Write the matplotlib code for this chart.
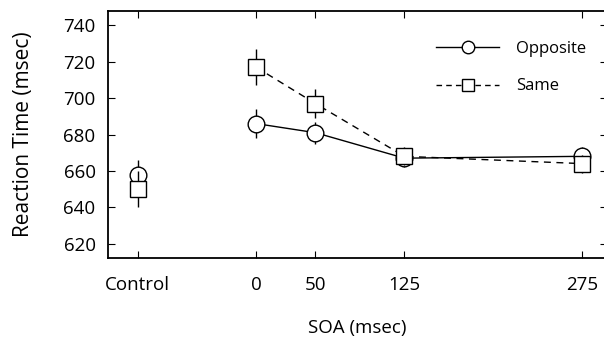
import matplotlib.pyplot as plt

soa = [-100, 0, 50, 125, 275]
tick_labels = ["Control", "0", "50", "125", "275"]
opposite = [658, 686, 681, 667, 668]
opposite_err = [8, 8, 6, 5, 5]
same = [650, 717, 697, 668, 664]
same_err = [10, 10, 8, 5, 5]

plt.rcParams['font.family'] = ['Open Sans', 'DejaVu Sans']

fig = plt.figure(figsize=(6.04, 3.41), dpi=100)
ax = fig.add_axes([0.179, 0.243, 0.826, 0.725])

# control point is drawn on its own, no connecting line
ax.errorbar(soa[0], same[0], yerr=same_err[0], fmt='s', color='black', mfc='white',
            ms=12, mew=1, elinewidth=1, capsize=0, zorder=3)
ax.errorbar(soa[0], opposite[0], yerr=opposite_err[0], fmt='o', color='black', mfc='white',
            ms=12, mew=1, elinewidth=1, capsize=0, zorder=2)

ax.errorbar(soa[1:], same[1:], yerr=same_err[1:], fmt='s', ls=(0, (5, 4)), color='black',
            mfc='white', ms=12, mew=1, lw=1, elinewidth=1, capsize=0, zorder=3)
ax.errorbar(soa[1:], opposite[1:], yerr=opposite_err[1:], fmt='o', ls='-', color='black',
            mfc='white', ms=12, mew=1, lw=1, elinewidth=1, capsize=0, zorder=2)

ax.plot([], [], 'o-', color='black', mfc='white', ms=9, lw=1, label='Opposite')
ax.plot([], [], 's', ls=(0, (4, 3)), color='black', mfc='white', ms=9, lw=1, label='Same')
ax.legend(loc='upper right', frameon=False, fontsize=12, handlelength=3.8,
          bbox_to_anchor=(0.988, 0.94), labelspacing=1.3, handletextpad=1.0)

ax.set_xlim(-125, 296)
ax.set_ylim(612, 748)
ax.set_xticks(soa)
ax.set_xticklabels(tick_labels)
ax.set_yticks(range(620, 741, 20))
ax.tick_params(direction='in', top=True, right=True, labelsize=13.5, length=5, pad=13)
ax.tick_params(axis='y', pad=9)
for s in ax.spines.values():
    s.set_linewidth(1.3)

ax.set_ylabel("Reaction Time (msec)", fontsize=15, labelpad=21)
ax.set_xlabel("SOA (msec)", fontsize=13.5, labelpad=18)

fig.savefig("out.png", dpi=100)
